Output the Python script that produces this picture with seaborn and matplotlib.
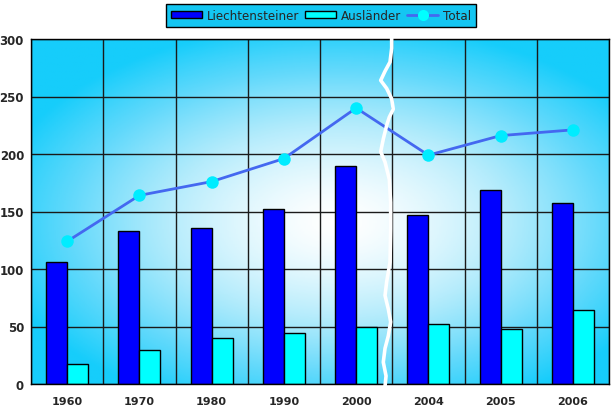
import numpy as np
import pandas as pd
import matplotlib
matplotlib.use("Agg")
import matplotlib.pyplot as plt
from matplotlib.colors import LinearSegmentedColormap
from matplotlib.lines import Line2D
from matplotlib.patches import Patch
import seaborn as sns

years = ["1960", "1970", "1980", "1990", "2000", "2004", "2005", "2006"]
liechtensteiner = [106, 133, 136, 152, 190, 147, 169, 157]
auslaender = [17, 30, 40, 44, 50, 52, 48, 64]
total = [124, 164, 176, 196, 240, 199, 216, 221]

# wavy break between 2000 and 2004 (value, offset from the category boundary)
break_y = [309, 292, 280, 272, 264, 257, 248, 239, 232, 225, 213, 202, 193,
           178, 158, 135, 106, 89, 77, 65, 54, 42, 31, 19, 7, -2]
break_dx = [-0.008, -0.008, -0.031, -0.1, -0.16, -0.077, -0.008, 0.014, -0.041,
            -0.077, -0.124, -0.16, -0.1, -0.041, -0.022, -0.022, -0.031, -0.077,
            -0.1, -0.054, -0.022, -0.054, -0.1, -0.124, -0.086, -0.1]

df = pd.DataFrame({
    "year": years * 2,
    "value": liechtensteiner + auslaender,
    "group": ["Liechtensteiner"] * len(years) + ["Ausländer"] * len(years),
})

sns.set_style("white")
plt.rcParams["font.family"] = ["DejaVu Sans"]

fig = plt.figure(figsize=(6.11, 4.14), dpi=100)
ax = fig.add_axes([31 / 611, 29 / 414, 578 / 611, 345 / 414])

# radial background
gx, gy = np.meshgrid(np.linspace(0, 1, 300), np.linspace(0, 1, 300))
r = np.sqrt(((gx - 0.53) / 1.05) ** 2 + (gy - 0.47) ** 2) / 0.58
r = np.clip(r, 0, 1) ** 1.5
bg = LinearSegmentedColormap.from_list("bg", ["#ffffff", "#b5ecfc", "#62d9fb", "#16cdfb"])
ax.imshow(r, cmap=bg, extent=(-0.5, 7.5, 0, 300), origin="lower",
          aspect="auto", zorder=0, vmin=0, vmax=1)

sns.barplot(data=df, x="year", y="value", hue="group",
            palette=["#0000ff", "#00ffff"], width=0.58, gap=0,
            edgecolor="black", linewidth=1, saturation=1,
            legend=False, ax=ax, zorder=2)

xs = np.arange(len(years))
ax.plot(xs, total, color="#4468f0", lw=2, marker="o", markersize=9,
        markerfacecolor="#00ecff", markeredgewidth=0, zorder=3)

bx = 4.5 + np.array(break_dx)
ax.plot(bx, break_y, color="white", lw=2.6, zorder=4, clip_on=False,
        solid_joinstyle="round", solid_capstyle="butt")

ax.set_xlim(-0.5, 7.5)
ax.set_ylim(0, 300)
ax.set_yticks(range(0, 301, 50))
ax.set_xticks(xs)
ax.set_xticks(np.arange(-0.5, 8, 1), minor=True)
ax.set_xticklabels(years, fontweight="bold", fontsize=8)
ax.set_yticklabels([str(v) for v in range(0, 301, 50)], fontweight="bold", fontsize=8.5)
ax.set_xlabel("")
ax.set_ylabel("")
ax.tick_params(axis="x", which="major", length=0, pad=9)
ax.tick_params(axis="x", which="minor", length=5, width=1, direction="out", color="black")
ax.tick_params(axis="y", length=4, width=1, direction="out", color="black", pad=1)
ax.grid(axis="y", which="major", color="#1a1a1a", lw=1, zorder=1)
ax.grid(axis="x", which="minor", color="#1a1a1a", lw=1, zorder=1)
ax.grid(axis="x", which="major", visible=False)
ax.set_axisbelow(True)
for s in ax.spines.values():
    s.set_color("black")
    s.set_linewidth(1)

handles = [
    Patch(facecolor="#0000ff", edgecolor="black", label="Liechtensteiner"),
    Patch(facecolor="#00ffff", edgecolor="black", label="Ausländer"),
    Line2D([], [], color="#4468f0", lw=2, marker="o", markersize=8,
           markerfacecolor="#00ffff", markeredgewidth=0, label="Total"),
]
leg = fig.legend(handles=handles, loc="center", bbox_to_anchor=(321 / 611, 1 - 16.5 / 414),
                 ncol=3, fontsize=8.6, frameon=True, fancybox=False,
                 facecolor="#14c6f2", edgecolor="black", framealpha=1,
                 handlelength=2.6, handleheight=0.5, handletextpad=0.4,
                 columnspacing=0.5, borderpad=0.45)
leg.get_frame().set_linewidth(1)

plt.savefig("out.png", dpi=100)
